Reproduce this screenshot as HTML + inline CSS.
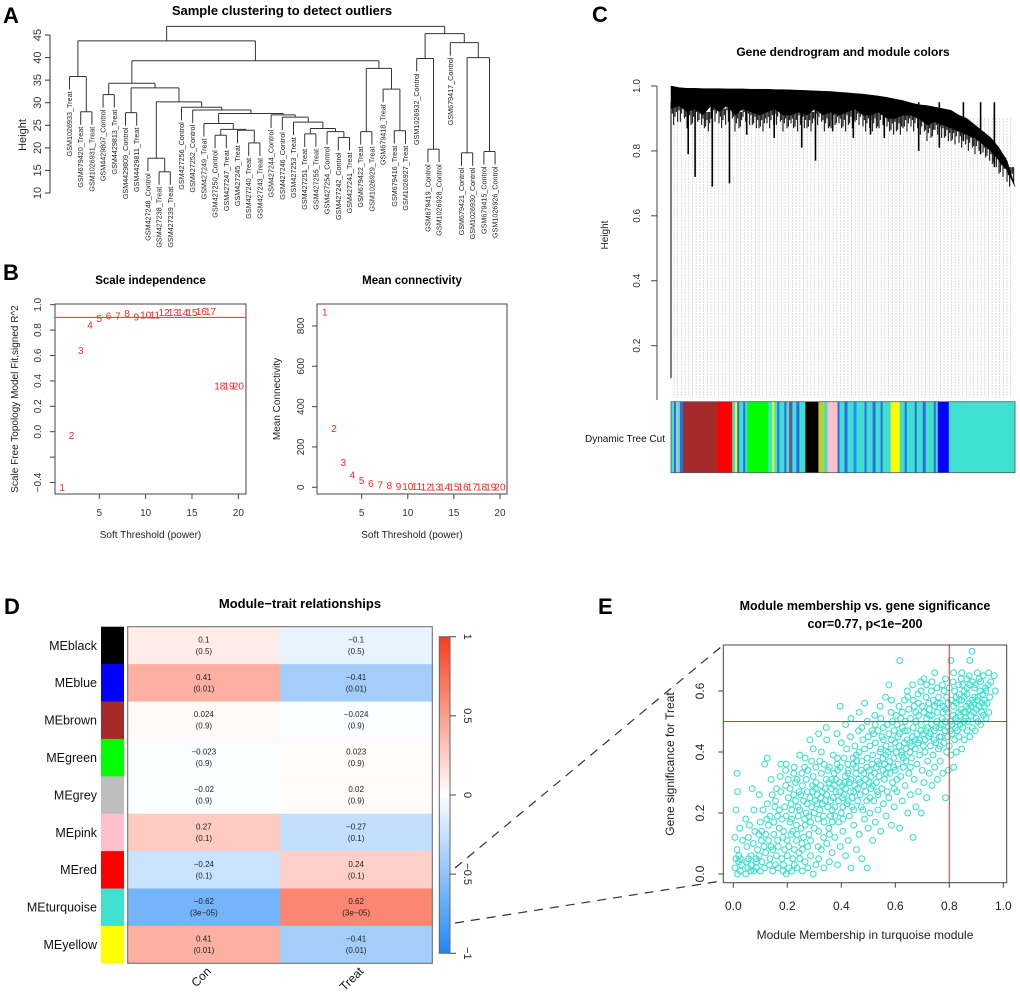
<!DOCTYPE html>
<html><head><meta charset="utf-8"><style>
html,body{margin:0;padding:0;background:#fff;}
svg{display:block;font-family:"Liberation Sans",Arial,sans-serif;}
</style></head><body>
<svg id="fig" width="1020" height="999" viewBox="0 0 1020 999" xmlns="http://www.w3.org/2000/svg">
<rect width="1020" height="999" fill="#fff"/>
<g id="pA"></g>
<g id="pB"></g>
<g id="pC"></g>
<g id="pD"></g>
<g id="pE"></g>
</svg>
<script>
// ===== Panel A data =====
const sampleLabels = ["GSM1026933_Treat","GSM679420_Treat","GSM1026931_Treat","GSM4429807_Control","GSM4429813_Treat","GSM4429809_Control","GSM4429811_Treat","GSM427248_Control","GSM427238_Treat","GSM427239_Treat","GSM427256_Control","GSM427252_Control","GSM427249_Treat","GSM427250_Control","GSM427247_Treat","GSM427245_Treat","GSM427240_Treat","GSM427243_Treat","GSM427244_Control","GSM427246_Control","GSM427253_Treat","GSM427251_Treat","GSM427255_Treat","GSM427254_Control","GSM427242_Control","GSM427241_Treat","GSM679422_Treat","GSM1026929_Treat","GSM679418_Treat","GSM679416_Treat","GSM1026927_Treat","GSM1026932_Control","GSM679419_Control","GSM1026928_Control","GSM679417_Control","GSM679421_Control","GSM1026930_Control","GSM679415_Control","GSM1026926_Control"];
const mergeLeft  = [-2,-1,-4,-6,-9,-8,-14,-17,-16,7,-13,-22,-25,-24,12,-21,-20,-19,11,-12,-11,6,4,3,-27,-30,-29,25,24,2,-33,-32,-36,-38,33,-35,32,30];
const mergeRight = [-3,1,-5,-7,-10,5,-15,-18,8,9,10,-23,-26,13,14,15,16,17,18,19,20,21,22,23,-28,-31,26,27,28,29,-34,31,-37,-39,34,35,36,37];
const mergeHeight= [28.0,35.8,31.8,27.8,14.7,17.7,22.8,21.1,23.9,24.1,25.4,23.1,22.3,23.6,24.3,25.7,26.8,27.3,27.6,28.4,29.0,30.2,33.3,34.3,23.6,23.8,33.0,37.6,39.3,43.7,19.7,39.8,18.9,19.2,40.0,43.3,45.3,46.9];
const heightTicksA = [10,15,20,25,30,35,40,45];

// ===== Panel B data =====
const powers = [1,2,3,4,5,6,7,8,9,10,11,12,13,14,15,16,17,18,19,20];
const scaleFitR2 = [-0.44,-0.03,0.64,0.84,0.89,0.91,0.91,0.93,0.905,0.92,0.92,0.94,0.94,0.94,0.94,0.945,0.945,0.36,0.36,0.36];
const meanConnectivity = [870,292,122,61,33,18,12,8,4,3,3,2,2,2,2,2,1,1,1,1];
const r2TickValues = [-0.4,-0.2,0.0,0.2,0.4,0.6,0.8,1.0];
const r2TickLabels = ["\u22120.4","","0.0","0.2","0.4","0.6","0.8","1.0"];
const connTicks = [0,200,400,600,800];
const powerTicks = [5,10,15,20];
const r2Cutoff = 0.9;

// ===== Panel C data =====
const canopyTop = [1.0,0.995,0.993,0.993,0.992,0.992,0.992,0.991,0.991,0.991,0.99,0.99,0.99,0.989,0.989,0.988,0.987,0.986,0.985,0.984,0.983,0.981,0.979,0.977,0.975,0.972,0.969,0.965,0.96,0.955,0.948,0.942,0.94,0.935,0.93,0.925,0.91,0.9,0.88,0.86,0.84,0.81,0.77,0.69];
const canopyBottom = [0.93,0.94,0.92,0.93,0.91,0.94,0.92,0.94,0.91,0.93,0.92,0.91,0.92,0.93,0.91,0.91,0.92,0.91,0.93,0.91,0.92,0.91,0.92,0.93,0.91,0.91,0.92,0.90,0.90,0.91,0.91,0.90,0.88,0.89,0.88,0.87,0.86,0.85,0.84,0.82,0.80,0.77,0.74,0.69];
const spikePos = [0.0,0.05,0.07,0.12,0.17,0.22,0.30,0.38,0.42,0.47,0.53,0.58,0.62,0.72,0.78,0.85,0.90,0.94];
const spikeMin = [0.10,0.79,0.72,0.69,0.70,0.85,0.84,0.81,0.77,0.86,0.84,0.85,0.84,0.80,0.81,0.83,0.79,0.75];
const treeCutModules = ["turquoise","blue","grey","turquoise","blue","brown","red","turquoise","yellow","blue","turquoise","blue","turquoise","green","turquoise","yellow","turquoise","blue","turquoise","blue","turquoise","red","blue","turquoise","blue","turquoise","black","greenyellow","turquoise","pink","blue","turquoise","blue","turquoise","dodger","turquoise","blue","turquoise","blue","turquoise","blue","turquoise","yellow","turquoise","blue","turquoise","blue","turquoise","blue","turquoise","blue","turquoise","blue","turquoise"];
const treeCutSizes   = [3,2,2,2,3,34,15,3,2,2,4,2,2,21,4,2,3,2,5,2,3,1,2,4,3,6,13,6,3,10,2,5,3,6,3,8,2,6,3,5,2,8,9,5,2,8,2,6,3,8,2,2,11,66];

// ===== Panel D data =====
const moduleNames = ["MEblack","MEblue","MEbrown","MEgreen","MEgrey","MEpink","MEred","MEturquoise","MEyellow"];
const traitNames = ["Con","Treat"];
const corrCon   = [0.1,0.41,0.024,-0.023,-0.02,0.27,-0.24,-0.62,0.41];
const corrTreat = [-0.1,-0.41,-0.024,0.023,0.02,-0.27,0.24,0.62,-0.41];
const pCon   = ["0.5","0.01","0.9","0.9","0.9","0.1","0.1","3e\u221205","0.01"];
const pTreat = ["0.5","0.01","0.9","0.9","0.9","0.1","0.1","3e\u221205","0.01"];
const legendTicks = [1,0.5,0,-0.5,-1];
const legendTickLabels = ["1","0.5","0","\u22120.5","\u22121"];

// ===== Panel E data =====
const membershipBins = [0.01,0.02,0.03,0.05,0.06,0.07,0.08,0.09,0.10,0.11,0.12,0.13,0.14,0.15,0.16,0.17,0.18,0.19,0.20,0.21,0.22,0.23,0.24,0.25,0.26,0.27,0.28,0.29,0.30,0.31,0.32,0.33,0.34,0.35,0.36,0.37,0.38,0.39,0.40,0.41,0.42,0.43,0.44,0.45,0.46,0.47,0.48,0.49,0.50,0.51,0.52,0.53,0.54,0.55,0.56,0.57,0.58,0.59,0.60,0.61,0.62,0.63,0.64,0.65,0.66,0.67,0.68,0.69,0.70,0.71,0.72,0.73,0.74,0.75,0.76,0.77,0.78,0.79,0.80,0.81,0.82,0.83,0.84,0.85,0.86,0.87,0.88,0.89,0.90,0.91,0.92,0.93,0.94,0.95,0.97];
const significanceByBin = [
[0.02,0.05,0.08,0.12,0.21,0.33],[0.00,0.04,0.15,0.27,0.06],[0.01,0.03,0.11,0.05],[0.00,0.04,0.02,0.18,0.09],[0.05,0.16,0.01,0.12],[0.03,0.28,0.10,0.06],[0.01,0.14,0.05,0.21],[0.02,0.08,0.13,0.04],[0.06,0.17,0.11,0.26,0.01],[0.04,0.21,0.09,0.14],
[0.02,0.13,0.18,0.36,0.07],[0.38,0.11,0.03,0.23,0.16],[0.05,0.09,0.26,0.19,0.31],[0.01,0.13,0.22,0.08,0.17],[0.03,0.28,0.11,0.24,0.06,0.19],[0.02,0.15,0.32,0.09,0.21],[0.36,0.05,0.12,0.27,0.18,0.01],[0.03,0.22,0.34,0.14,0.08,0.29],[0.00,0.11,0.25,0.19,0.06,0.31,0.36],[0.02,0.17,0.23,0.09,0.28,0.13],
[0.01,0.14,0.33,0.21,0.05,0.26,0.18],[0.08,0.30,0.16,0.03,0.24,0.11,0.35],[0.02,0.19,0.27,0.13,0.22,0.07,0.31],[0.05,0.15,0.33,0.21,0.26,0.10,0.39],[0.01,0.24,0.18,0.29,0.12,0.35,0.08],[0.04,0.20,0.27,0.16,0.31,0.23,0.38],[0.02,0.13,0.25,0.34,0.19,0.44,0.09],[0.06,0.22,0.29,0.17,0.37,0.27,0.11],[0.00,0.15,0.24,0.32,0.20,0.28,0.41],[0.03,0.26,0.18,0.35,0.23,0.09,0.30],
[0.05,0.21,0.29,0.14,0.37,0.25,0.46],[0.08,0.27,0.19,0.33,0.23,0.12,0.40],[0.02,0.24,0.31,0.17,0.28,0.48,0.36],[0.10,0.22,0.30,0.26,0.34,0.15,0.44],[0.04,0.19,0.28,0.35,0.24,0.31,0.13],[0.07,0.25,0.33,0.21,0.39,0.29,0.17],[0.12,0.27,0.36,0.22,0.31,0.46,0.19],[0.03,0.24,0.30,0.38,0.17,0.27,0.34],[0.09,0.20,0.29,0.35,0.43,0.25,0.55],[0.14,0.26,0.32,0.22,0.38,0.30,0.18],
[0.06,0.23,0.36,0.28,0.41,0.33,0.49],[0.11,0.19,0.27,0.34,0.30,0.45,0.24],[0.02,0.25,0.38,0.31,0.22,0.36,0.51],[0.16,0.29,0.35,0.27,0.42,0.33,0.21],[0.08,0.24,0.31,0.39,0.28,0.47,0.37],[0.13,0.26,0.34,0.40,0.30,0.22,0.53],[0.05,0.21,0.29,0.37,0.44,0.33,0.48],[0.18,0.27,0.35,0.41,0.31,0.24,0.56],[0.02,0.15,0.30,0.38,0.45,0.34,0.50],[0.20,0.28,0.36,0.42,0.32,0.47,0.25],
[0.11,0.24,0.33,0.39,0.46,0.52,0.29],[0.17,0.30,0.37,0.43,0.35,0.27,0.49],[0.21,0.32,0.40,0.47,0.36,0.55,0.26],[0.14,0.28,0.34,0.41,0.45,0.38,0.51],[0.23,0.31,0.39,0.44,0.36,0.58,0.48],[0.19,0.27,0.35,0.42,0.49,0.40,0.33],[0.25,0.33,0.41,0.46,0.37,0.53,0.62],[0.16,0.30,0.38,0.44,0.50,0.35,0.57],[0.22,0.34,0.40,0.47,0.43,0.52,0.28],[0.27,0.36,0.42,0.49,0.45,0.55,0.31],
[0.15,0.32,0.39,0.46,0.51,0.40,0.70],[0.24,0.35,0.43,0.48,0.38,0.57,0.53],[0.29,0.37,0.44,0.50,0.41,0.60,0.47],[0.20,0.33,0.40,0.47,0.54,0.43,0.58],[0.26,0.38,0.45,0.51,0.42,0.62,0.35],[0.12,0.31,0.41,0.48,0.55,0.44,0.57],[0.22,0.36,0.43,0.50,0.46,0.59,0.53],[0.27,0.39,0.47,0.52,0.44,0.63,0.56],[0.20,0.34,0.42,0.49,0.55,0.46,0.60],[0.30,0.40,0.47,0.53,0.44,0.58,0.64],
[0.25,0.37,0.45,0.51,0.48,0.56,0.62],[0.33,0.42,0.49,0.54,0.46,0.60,0.52],[0.29,0.39,0.47,0.52,0.57,0.44,0.63],[0.35,0.43,0.50,0.55,0.48,0.61,0.66],[0.31,0.41,0.48,0.53,0.58,0.45,0.56],[0.37,0.45,0.51,0.56,0.49,0.62,0.42],[0.33,0.43,0.50,0.55,0.60,0.47,0.53],[0.25,0.40,0.48,0.54,0.58,0.45,0.64],[0.34,0.42,0.50,0.56,0.61,0.47,0.53],[0.39,0.46,0.52,0.57,0.49,0.63,0.70],
[0.35,0.44,0.51,0.55,0.60,0.48,0.66],[0.40,0.47,0.53,0.58,0.50,0.62,0.56],[0.45,0.49,0.54,0.59,0.52,0.64,0.57],[0.41,0.48,0.53,0.57,0.62,0.50,0.66],[0.44,0.51,0.55,0.60,0.53,0.64,0.58],[0.47,0.50,0.56,0.61,0.54,0.65,0.59],[0.45,0.52,0.57,0.62,0.55,0.73,0.70],[0.48,0.53,0.58,0.63,0.56,0.61],[0.47,0.51,0.57,0.62,0.54,0.66],[0.50,0.55,0.60,0.58,0.64],
[0.49,0.53,0.59,0.63,0.56],[0.52,0.57,0.61,0.65,0.55],[0.51,0.56,0.62,0.60],[0.53,0.58,0.63,0.66],[0.65,0.60]];
const mmTicks = [0.0,0.2,0.4,0.6,0.8,1.0];
const gsTicks = [0.0,0.2,0.4,0.6];
const mmCut = 0.8, gsCut = 0.5;

// ===== helpers =====
const NS = "http://www.w3.org/2000/svg";
function mk(parent, tag, attrs, text){
  const e = document.createElementNS(NS, tag);
  for (const k in attrs) e.setAttribute(k, attrs[k]);
  if (text !== undefined) e.textContent = text;
  parent.appendChild(e);
  return e;
}
function fmt(v){ return String(v).replace("-", "\u2212"); }

// ===== Panel A =====
(function(){
  const g = document.getElementById("pA");
  const xLeaf = i => 69.5 + i * 11.2;
  const yA = h => 193 - (h - 10) * 4.514;
  const hang = 13;
  let t = mk(g,"text",{x:3,y:23,"font-size":22,"font-weight":"bold"},"A");
   
  t = mk(g,"text",{x:282,y:15,"font-size":13,"font-weight":"bold","text-anchor":"middle"},"Sample clustering to detect outliers");
   
  let ax = mk(g,"line",{x1:50,x2:50,y1:yA(45),y2:yA(10),stroke:"#333","stroke-width":1});
   
  heightTicksA.forEach(v=>{
    const tk = mk(g,"line",{x1:45,x2:50,y1:yA(v),y2:yA(v),stroke:"#333"});
     
    const lb = mk(g,"text",{x:0,y:0,"font-size":11,fill:"#333","text-anchor":"middle",transform:`translate(41,${yA(v)}) rotate(-90)`},String(v));
     
  });
  t = mk(g,"text",{x:0,y:0,"font-size":11,fill:"#222","text-anchor":"middle",transform:"translate(26,135) rotate(-90)"},"Height");
   
  const nodeX = [], nodeH = [];
  function pos(ref){ return ref < 0 ? {x:xLeaf(-ref-1), leaf:true, idx:-ref-1} : {x:nodeX[ref-1], h:nodeH[ref-1], leaf:false}; }
  for (let m = 0; m < mergeLeft.length; m++){
    const h = mergeHeight[m];
    const a = pos(mergeLeft[m]), b = pos(mergeRight[m]);
    const y = yA(h);
    [a,b].forEach(n=>{
      let y2;
      if (n.leaf){
        y2 = y + hang;
        const lb = mk(g,"text",{x:0,y:0,"font-size":7.2,fill:"#222","text-anchor":"end",dy:"0.35em",transform:`translate(${n.x},${y2+2}) rotate(-90)`},sampleLabels[n.idx]);
         
      } else y2 = yA(n.h);
      const ln = mk(g,"line",{x1:n.x,x2:n.x,y1:y,y2:y2,stroke:"#333","stroke-width":1});
       
    });
    const hl = mk(g,"line",{x1:a.x,x2:b.x,y1:y,y2:y,stroke:"#333","stroke-width":1});
     
    nodeX.push((a.x+b.x)/2); nodeH.push(h);
  }
})();

// ===== Panel B =====
(function(){
  const g = document.getElementById("pB");
  let t = mk(g,"text",{x:3,y:280,"font-size":22,"font-weight":"bold"},"B");
   
  function plot(cfg){
    const {x0,x1,y0,y1,xs,ys,xTicks,yTickVals,yTickLabs,title,ytitle,ytitleX,ylabX,name,cutoff} = cfg;
    const sx = v => cfg.sx0 + (v-1)*cfg.sxk;
    const sy = cfg.sy;
    const box = mk(g,"rect",{x:x0,y:y0,width:x1-x0,height:y1-y0,fill:"none",stroke:"#444","stroke-width":1});
     
    const tt = mk(g,"text",{x:(x0+x1)/2,y:284,"font-size":11.5,"font-weight":"bold","text-anchor":"middle"},title);
     
    xTicks.forEach(v=>{
      const tk = mk(g,"line",{x1:sx(v),x2:sx(v),y1:y1,y2:y1+5,stroke:"#444"});
       
      const lb = mk(g,"text",{x:sx(v),y:516,"font-size":10,fill:"#333","text-anchor":"middle"},String(v));
       
    });
    yTickVals.forEach((v,i)=>{
      const tk = mk(g,"line",{x1:x0-5,x2:x0,y1:sy(v),y2:sy(v),stroke:"#444"});
       
      if (yTickLabs[i]){
        const lb = mk(g,"text",{x:0,y:0,"font-size":10,fill:"#333","text-anchor":"middle",transform:`translate(${ylabX},${sy(v)}) rotate(-90)`},yTickLabs[i]);
         
      }
    });
    const xt = mk(g,"text",{x:(x0+x1)/2,y:538,"font-size":10,fill:"#222","text-anchor":"middle"},"Soft Threshold (power)");
     
    const yt = mk(g,"text",{x:0,y:0,"font-size":10,fill:"#222","text-anchor":"middle",transform:`translate(${ytitleX},${(y0+y1)/2}) rotate(-90)`},ytitle);
     
    if (cutoff !== undefined){
      const cl = mk(g,"line",{x1:x0,x2:x1,y1:sy(cutoff),y2:sy(cutoff),stroke:"#e8302a","stroke-width":1});
       
    }
    xs.forEach((p,i)=>{
      const lb = mk(g,"text",{x:sx(p),y:sy(ys[i]),"font-size":10,fill:"#f22","text-anchor":"middle",dy:"0.35em"},String(p));
       
    });
  }
  plot({x0:55,x1:246,y0:304,y1:494,sx0:62.2,sxk:9.27,sy:v=>431.7-127*v,xs:powers,ys:scaleFitR2,xTicks:powerTicks,yTickVals:r2TickValues,yTickLabs:r2TickLabels,title:"Scale independence",ytitle:"Scale Free Topology Model Fit,signed R^2",ytitleX:18,ylabX:41,name:"scale-independence",cutoff:r2Cutoff});
  plot({x0:317,x1:507,y0:304,y1:494,sx0:324.8,sxk:9.22,sy:v=>487.3-0.2017*v,xs:powers,ys:meanConnectivity,xTicks:powerTicks,yTickVals:connTicks,yTickLabs:connTicks.map(String),title:"Mean connectivity",ytitle:"Mean Connectivity",ytitleX:280,ylabX:304,name:"mean-connectivity"});
})();

// ===== Panel C =====
(function(){
  const g = document.getElementById("pC");
  const X0 = 671, X1 = 1015;
  const sx = f => X0 + f*(X1-X0);
  const sy = v => 86 + (1-v)*324.6;
  let t = mk(g,"text",{x:592,y:22,"font-size":22,"font-weight":"bold"},"C");
   
  t = mk(g,"text",{x:843,y:56,"font-size":12,"font-weight":"bold","text-anchor":"middle"},"Gene dendrogram and module colors");
   
  for (let x = X0+3; x < X1-4; x += 3.7){
    const dl = mk(g,"line",{x1:x,x2:x,y1:sy(0.9),y2:398,stroke:"#9a9a9a","stroke-width":0.7,"stroke-dasharray":"1 2"});
     
  }
  let ax = mk(g,"line",{x1:657,x2:657,y1:sy(1.0),y2:400,stroke:"#444"});
   
  [0.2,0.4,0.6,0.8,1.0].forEach(v=>{
    const tk = mk(g,"line",{x1:651,x2:657,y1:sy(v),y2:sy(v),stroke:"#444"});
     
    const lb = mk(g,"text",{x:0,y:0,"font-size":10,fill:"#333","text-anchor":"middle",transform:`translate(640,${sy(v)}) rotate(-90)`},v.toFixed(1));
     
  });
  t = mk(g,"text",{x:0,y:0,"font-size":10,fill:"#222","text-anchor":"middle",transform:"translate(608,235) rotate(-90)"},"Height");
   
  const n = canopyTop.length;
  let d = "";
  canopyTop.forEach((v,i)=>{ d += (i?"L":"M") + sx(i/(n-1)).toFixed(1) + "," + sy(v).toFixed(1); });
  for (let i = n-1; i >= 0; i--) d += "L" + sx(i/(n-1)).toFixed(1) + "," + sy(canopyBottom[i]).toFixed(1);
  const cp = mk(g,"path",{d:d+"Z",fill:"#000",stroke:"#000","stroke-width":0.5});
   
  const drops = [0.035,0.015,0.05,0.025,0.01,0.04];
  for (let i = 0; i < n-1; i++){
    for (let k = 0; k < 6; k++){
      const f = (i + k/6)/(n-1);
      const base = canopyBottom[i];
      const hl = mk(g,"line",{x1:sx(f),x2:sx(f),y1:sy(base+0.01),y2:sy(base-drops[(k+i)%6]),stroke:"#000","stroke-width":1});
       
    }
  }
  spikePos.forEach((p,i)=>{
    const sl = mk(g,"line",{x1:sx(p),x2:sx(p),y1:sy(0.95),y2:sy(spikeMin[i]),stroke:"#000","stroke-width":i===0?1:1.6});
     
  });
  const colorMap = {turquoise:"#40e0d0",blue:"#0000ff",grey:"#bebebe",brown:"#a52a2a",red:"#ff0000",yellow:"#ffff00",green:"#00ff00",black:"#000000",greenyellow:"#b5d03a",pink:"#ffc0cb",dodger:"#1e90ff"};
  const total = treeCutSizes.reduce((a,b)=>a+b,0);
  let acc = 0;
  treeCutModules.forEach((m,i)=>{
    const xa = sx(acc/total), xb = sx((acc+treeCutSizes[i])/total);
    const c = (m==="blue" && treeCutSizes[i] < 5) ? "#2f6ae6" : colorMap[m];
    const r = mk(g,"rect",{x:xa,y:401.7,width:xb-xa+0.3,height:71,fill:c});
     
    acc += treeCutSizes[i];
  });
  const bb = mk(g,"rect",{x:X0,y:401.7,width:X1-X0,height:71,fill:"none",stroke:"#555","stroke-width":0.8});
   
  t = mk(g,"text",{x:665,y:442,"font-size":10,fill:"#111","text-anchor":"end"},"Dynamic Tree Cut");
   
})();

// ===== Panel D =====
(function(){
  const g = document.getElementById("pD");
  const hx0 = 127.7, hx1 = 432.3, hy0 = 626.7, hy1 = 963.3;
  const rowH = (hy1-hy0)/moduleNames.length;
  const colW = (hx1-hx0)/traitNames.length;
  const moduleColors = ["#000000","#0000ff","#a52a2a","#00ff00","#bebebe","#ffc0cb","#ff0000","#40e0d0","#ffff00"];
  function heat(v){
    const a = Math.min(1, Math.abs(v));
    const end = v >= 0 ? [249,61,28] : [30,136,245];
    const c = end.map(e => Math.round(255 + (e-255)*a));
    return `rgb(${c[0]},${c[1]},${c[2]})`;
  }
  let t = mk(g,"text",{x:4,y:614,"font-size":22,"font-weight":"bold"},"D");
   
  t = mk(g,"text",{x:300,y:608,"font-size":13,"font-weight":"bold","text-anchor":"middle"},"Module\u2212trait relationships");
   
  const vals = [corrCon, corrTreat], ps = [pCon, pTreat];
  moduleNames.forEach((m,r)=>{
    const y = hy0 + r*rowH;
    const sw = mk(g,"rect",{x:101,y:y,width:23,height:rowH+0.3,fill:moduleColors[r]});
     
    const lb = mk(g,"text",{x:97,y:y+rowH/2,"font-size":12.5,fill:"#111","text-anchor":"end",dy:"0.35em"},m);
     
    traitNames.forEach((tn,c)=>{
      const x = hx0 + c*colW;
      const cell = mk(g,"rect",{x:x,y:y,width:colW+0.3,height:rowH+0.3,fill:heat(vals[c][r])});
       
      const t1 = mk(g,"text",{x:x+colW/2,y:y+rowH/2-3,"font-size":8,fill:"#222","text-anchor":"middle"},fmt(vals[c][r]));
       
      const t2 = mk(g,"text",{x:x+colW/2,y:y+rowH/2+8.5,"font-size":8,fill:"#222","text-anchor":"middle"},"("+ps[c][r]+")");
       
    });
  });
  const hb = mk(g,"rect",{x:hx0,y:hy0,width:hx1-hx0,height:hy1-hy0,fill:"none",stroke:"#666","stroke-width":1});
   
  traitNames.forEach((tn,c)=>{
    const cx = hx0 + c*colW + colW/2;
    const lb = mk(g,"text",{x:0,y:0,"font-size":12,fill:"#111","text-anchor":"end",transform:`translate(${cx+8},${972}) rotate(-45)`},tn);
     
  });
  const defs = mk(g,"defs",{});
  const lg = mk(defs,"linearGradient",{id:"cbar",x1:0,y1:0,x2:0,y2:1});
  [[0,heat(1)],[0.5,"#ffffff"],[1,heat(-1)]].forEach(s=>mk(lg,"stop",{offset:s[0],"stop-color":s[1]}));
  const ly0 = 636.7, ly1 = 953.3;
  const ly = v => ly0 + (1-v)/2*(ly1-ly0);
  const cb = mk(g,"rect",{x:439.3,y:ly0,width:10.7,height:ly1-ly0,fill:"url(#cbar)",stroke:"#666","stroke-width":1});
   
  legendTicks.forEach((v,i)=>{
    const tk = mk(g,"line",{x1:450,x2:456,y1:ly(v),y2:ly(v),stroke:"#444"});
     
    const lb = mk(g,"text",{x:0,y:0,"font-size":11,fill:"#222","text-anchor":"middle",transform:`translate(464,${ly(v)}) rotate(90)`},legendTickLabels[i]);
     
  });
})();

// ===== Panel E =====
(function(){
  const g = document.getElementById("pE");
  const px0 = 723.3, px1 = 1006.7, py0 = 645, py1 = 882.7;
  const sx = v => 733.3 + v*270;
  const sy = v => 874 - v*305;
  let dl = mk(g,"line",{x1:455,y1:868,x2:px0,y2:py0,stroke:"#333","stroke-width":1.2,"stroke-dasharray":"9 7"});
   
  dl = mk(g,"line",{x1:455,y1:923,x2:px0,y2:py1-2,stroke:"#333","stroke-width":1.2,"stroke-dasharray":"9 7"});
   
  let t = mk(g,"text",{x:598,y:614,"font-size":22,"font-weight":"bold"},"E");
   
  t = mk(g,"text",{x:865,y:610,"font-size":12.5,"font-weight":"bold","text-anchor":"middle"},"Module membership vs. gene significance");
   
  t = mk(g,"text",{x:865,y:628,"font-size":12.5,"font-weight":"bold","text-anchor":"middle"},"cor=0.77, p<1e\u2212200");
   
  membershipBins.forEach((mm,i)=>{
    significanceByBin[i].forEach((gs,k)=>{
      const c = mk(g,"circle",{cx:sx(mm + ((k%3)-1)*0.004),cy:sy(gs),r:2.9,fill:"none",stroke:"#40e0d0","stroke-width":1.1});
       
    });
  });
  let l = mk(g,"line",{x1:px0,x2:px1,y1:sy(gsCut),y2:sy(gsCut),stroke:"#e8302a","stroke-width":1});
   
  l = mk(g,"line",{x1:sx(mmCut),x2:sx(mmCut),y1:py0,y2:py1,stroke:"#e8302a","stroke-width":1});
   
  const box = mk(g,"rect",{x:px0,y:py0,width:px1-px0,height:py1-py0,fill:"none",stroke:"#444","stroke-width":1});
   
  mmTicks.forEach(v=>{
    const tk = mk(g,"line",{x1:sx(v),x2:sx(v),y1:py1,y2:py1+5,stroke:"#444"});
     
    const lb = mk(g,"text",{x:sx(v),y:910,"font-size":12,fill:"#222","text-anchor":"middle"},v.toFixed(1));
     
  });
  gsTicks.forEach(v=>{
    const tk = mk(g,"line",{x1:px0-5,x2:px0,y1:sy(v),y2:sy(v),stroke:"#444"});
     
    const lb = mk(g,"text",{x:0,y:0,"font-size":12,fill:"#222","text-anchor":"middle",transform:`translate(704,${sy(v)}) rotate(-90)`},v.toFixed(1));
     
  });
  t = mk(g,"text",{x:865,y:939,"font-size":12,fill:"#222","text-anchor":"middle"},"Module Membership in turquoise module");
   
  t = mk(g,"text",{x:0,y:0,"font-size":12,fill:"#222","text-anchor":"middle",transform:"translate(674,764) rotate(-90)"},"Gene significance for  Treat");
   
})();
</script>
</body></html>
